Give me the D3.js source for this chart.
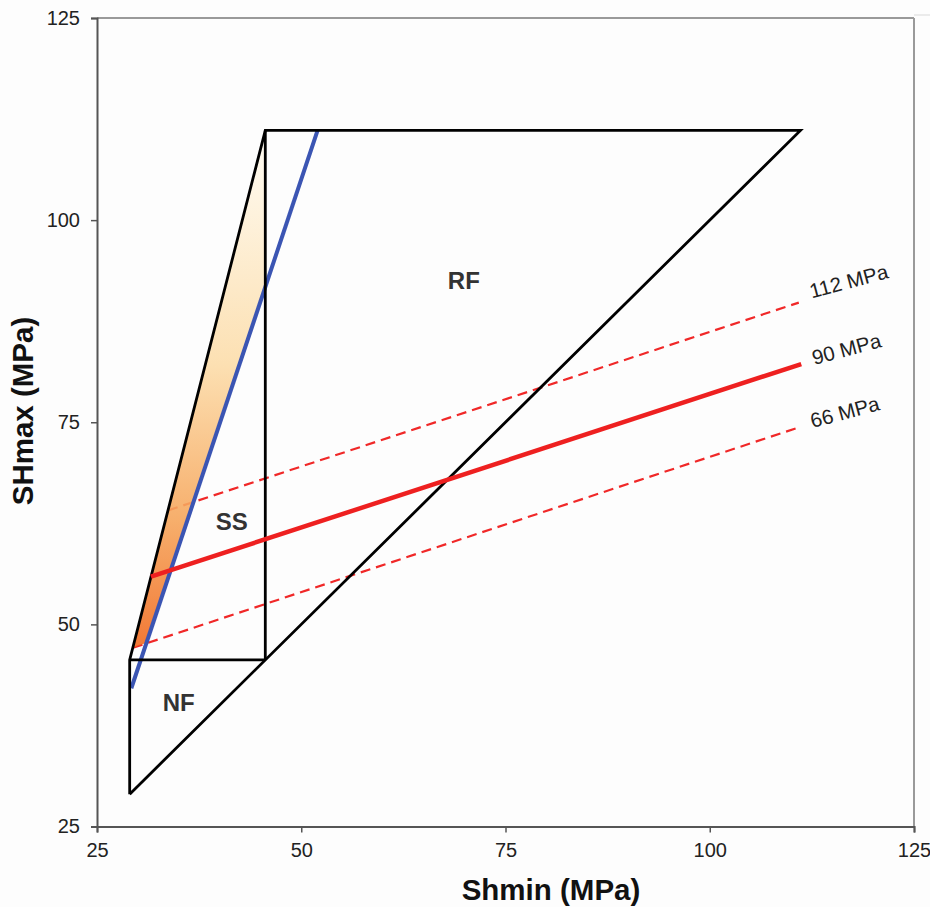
<!DOCTYPE html>
<html>
<head>
<meta charset="utf-8">
<script src="https://cdn.jsdelivr.net/npm/d3@7"></script>
<style>
  body { margin: 0; background: #fdfdfd; }
  svg { display: block; font-family: "Liberation Sans", Arial, sans-serif; }
</style>
</head>
<body>
<div id="chart"></div>
<script>
// stress polygon (MPa)
const ticks = [25, 50, 75, 100, 125];
const outline = [[29, 29], [29, 45.6], [45.6, 111.1], [111.1, 111.1], [29, 29]];
const nfTop = [[29, 45.6], [45.6, 45.6]];
const ssRight = [[45.6, 45.6], [45.6, 111.1]];
const blueLine = [[29.2, 42.1], [52.0, 111.1]];
const shadedArea = [[29.4, 47.1], [45.6, 111.1], [45.6, 91.7], [31.0, 47.7]];

const stressLabels = ["112 MPa", "90 MPa", "66 MPa"];
const stressLines = [
  [[33.7, 64.1], [110.9, 89.8]],
  [[31.6, 55.9], [111.2, 82.2]],
  [[29.4, 47.1], [111.0, 74.4]]
];
const stressDashed = [true, false, true];

const regimeNames = ["RF", "SS", "NF"];
const regimeAt = [[69.9, 91.5], [41.5, 61.7], [35.0, 39.3]];

const margin = { top: 18, right: 16, bottom: 80.5, left: 97 },
  width = 930 - margin.left - margin.right,
  height = 907 - margin.top - margin.bottom;

const svg = d3
  .select("#chart")
  .append("svg")
  .attr("width", 930)
  .attr("height", 907);

const g = svg
  .append("g")
  .attr("transform", "translate(" + margin.left + "," + margin.top + ")");

const x = d3.scaleLinear().domain([25, 125]).range([0, width]);
const y = d3.scaleLinear().domain([25, 125]).range([height, 0]);
const line = d3.line().x(d => x(d[0])).y(d => y(d[1]));

// gradient for the shaded wedge
const grad = svg
  .append("defs")
  .append("linearGradient")
  .attr("id", "wedge")
  .attr("gradientUnits", "userSpaceOnUse")
  .attr("x1", 0)
  .attr("x2", 0)
  .attr("y1", y(47))
  .attr("y2", y(111.1));
[
  [0, "#f0661a"],
  [0.25, "#f6a458"],
  [0.55, "#fcdca8"],
  [1, "#fffcf3"]
].forEach(s => grad.append("stop").attr("offset", s[0]).attr("stop-color", s[1]));

// frame top / right
g.append("line")
  .attr("x1", 0).attr("x2", width).attr("y1", 0).attr("y2", 0)
  .attr("stroke", "#9a9a9a").attr("stroke-width", 2);
g.append("line")
  .attr("x1", width).attr("x2", width).attr("y1", 0).attr("y2", height)
  .attr("stroke", "#9a9a9a").attr("stroke-width", 2);
svg.append("line")
  .attr("x1", margin.left + width).attr("x2", 930).attr("y1", 15).attr("y2", 15)
  .attr("stroke", "#e4e4e4").attr("stroke-width", 1.5);

// stress lines (under the wedge)
stressLines.forEach((pts, i) => {
  if (!stressDashed[i]) return;
  g.append("path")
    .datum(pts)
    .attr("d", line)
    .attr("fill", "none")
    .attr("stroke", "#f02828")
    .attr("stroke-width", 2.2)
    .attr("stroke-dasharray", "10,6");
});

g.append("path")
  .datum(shadedArea)
  .attr("d", line)
  .attr("fill", "url(#wedge)")
  .attr("fill-opacity", 0.88);

g.append("path")
  .datum(blueLine)
  .attr("d", line)
  .attr("fill", "none")
  .attr("stroke", "#3b55b3")
  .attr("stroke-width", 4);

[outline, nfTop, ssRight].forEach(pts => {
  g.append("path")
    .datum(pts)
    .attr("d", line)
    .attr("fill", "none")
    .attr("stroke", "#000")
    .attr("stroke-width", 2.8)
    .attr("stroke-linejoin", "miter");
});

stressLines.forEach((pts, i) => {
  if (stressDashed[i]) return;
  g.append("path")
    .datum(pts)
    .attr("d", line)
    .attr("fill", "none")
    .attr("stroke", "#ee2020")
    .attr("stroke-width", 4.5);
});

// line labels
const angle = -15;
stressLines.forEach((pts, i) => {
  const end = pts[pts.length - 1];
  const px = x(end[0]) + 13,
    py = y(end[1]) + (i == 0 ? -4 : 1);
  g.append("text")
    .attr("transform", "translate(" + px + "," + py + ") rotate(" + angle + ")")
    .attr("font-size", 20.5)
    .attr("fill", "#222")
    .text(stressLabels[i]);
});

regimeNames.forEach((name, i) => {
  g.append("text")
    .attr("x", x(regimeAt[i][0]))
    .attr("y", y(regimeAt[i][1]))
    .attr("text-anchor", "middle")
    .attr("font-size", 24)
    .attr("font-weight", "bold")
    .attr("fill", "#333")
    .text(name);
});

// axes
const xAxis = g
  .append("g")
  .attr("transform", "translate(0," + height + ")")
  .call(d3.axisBottom(x).tickValues(ticks).tickSize(6).tickPadding(10));
const yAxis = g
  .append("g")
  .call(d3.axisLeft(y).tickValues(ticks).tickSize(6).tickPadding(11));

[xAxis, yAxis].forEach(a => {
  a.select(".domain").attr("stroke", "#555").attr("stroke-width", 2);
  a.selectAll(".tick line").attr("stroke", "#555").attr("stroke-width", 1.5);
  a.selectAll(".tick text")
    .attr("fill", "#222")
    .style("font-size", "20px")
    .style("font-family", "'Liberation Sans', Arial, sans-serif");
});

svg.append("text")
  .attr("x", 551)
  .attr("y", 900)
  .attr("text-anchor", "middle")
  .attr("font-size", 29.5)
  .attr("font-weight", "bold")
  .attr("fill", "#111")
  .text("Shmin (MPa)");

svg.append("text")
  .attr("transform", "translate(33,411) rotate(-90)")
  .attr("text-anchor", "middle")
  .attr("font-size", 29.5)
  .attr("font-weight", "bold")
  .attr("fill", "#111")
  .text("SHmax (MPa)");
</script>
</body>
</html>
